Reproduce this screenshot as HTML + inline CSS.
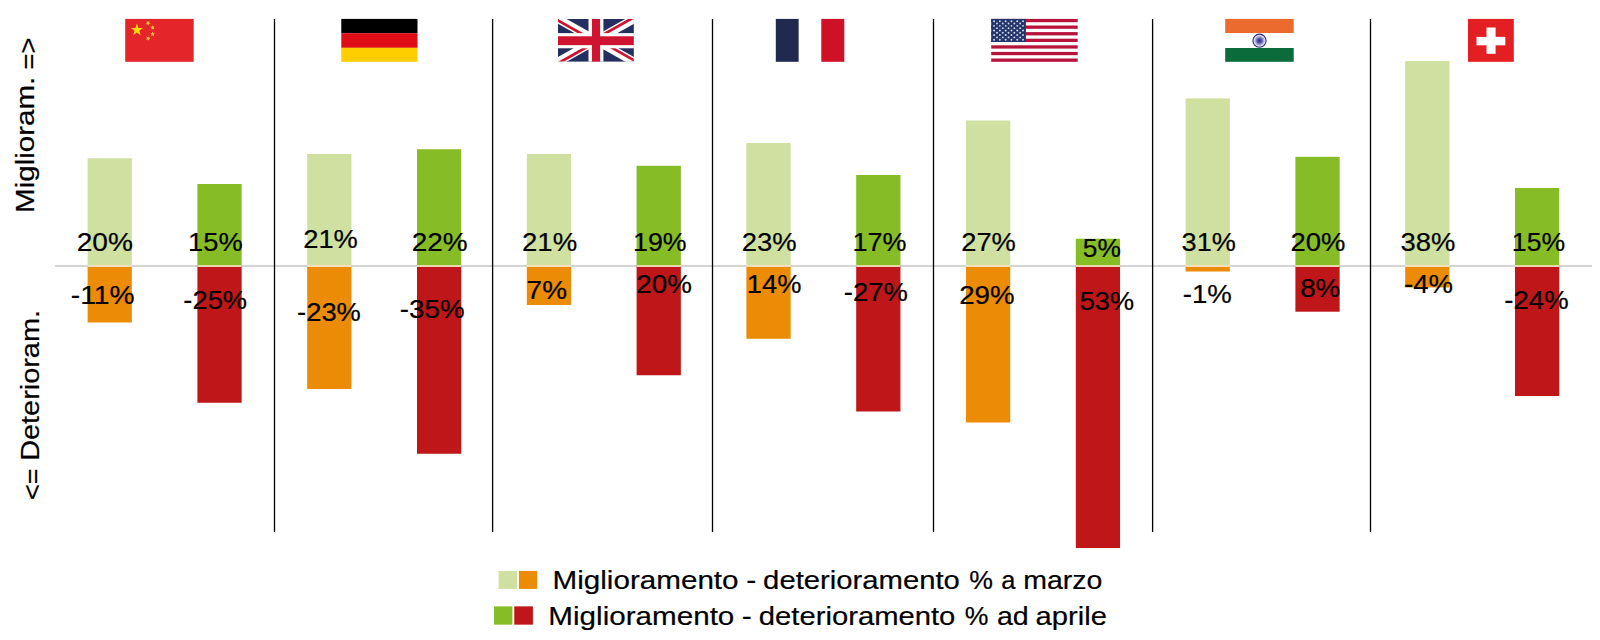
<!DOCTYPE html>
<html lang="it">
<head>
<meta charset="utf-8">
<title>Miglioramento - deterioramento</title>
<style>
html,body{margin:0;padding:0;background:#fff;}
body{width:1600px;height:640px;overflow:hidden;font-family:"Liberation Sans",sans-serif;}
svg{display:block;}
svg text{font-family:"Liberation Sans",sans-serif;fill:#000;stroke:#000;stroke-width:0.2px;white-space:pre;}
</style>
</head>
<body>
<svg width="1600" height="640" viewBox="0 0 1600 640">
<rect x="0" y="0" width="1600" height="640" fill="#ffffff"/>

<rect id="axis" x="55" y="265.05" width="1537" height="1.9" fill="#d2d2d3"/>
<g id="bars">
<rect x="87.60" y="158.25" width="44.25" height="108.75" fill="#cfe0a1"/>
<rect x="87.60" y="266.0" width="44.25" height="56.50" fill="#ec8b05"/>
<rect x="87.60" y="265.2" width="44.25" height="1.7" fill="#f9e6c6"/>
<rect x="197.40" y="184.00" width="44.25" height="83.00" fill="#86bc25"/>
<rect x="197.40" y="266.0" width="44.25" height="136.75" fill="#bf161a"/>
<rect x="197.40" y="265.2" width="44.25" height="1.7" fill="#f9e6c6"/>
<rect x="307.20" y="154.00" width="44.25" height="113.00" fill="#cfe0a1"/>
<rect x="307.20" y="266.0" width="44.25" height="123.00" fill="#ec8b05"/>
<rect x="307.20" y="265.2" width="44.25" height="1.7" fill="#f9e6c6"/>
<rect x="417.00" y="149.25" width="44.25" height="117.75" fill="#86bc25"/>
<rect x="417.00" y="266.0" width="44.25" height="187.75" fill="#bf161a"/>
<rect x="417.00" y="265.2" width="44.25" height="1.7" fill="#f9e6c6"/>
<rect x="526.80" y="154.00" width="44.25" height="113.00" fill="#cfe0a1"/>
<rect x="526.80" y="266.0" width="44.25" height="39.00" fill="#ec8b05"/>
<rect x="526.80" y="265.2" width="44.25" height="1.7" fill="#f9e6c6"/>
<rect x="636.60" y="165.75" width="44.25" height="101.25" fill="#86bc25"/>
<rect x="636.60" y="266.0" width="44.25" height="109.25" fill="#bf161a"/>
<rect x="636.60" y="265.2" width="44.25" height="1.7" fill="#f9e6c6"/>
<rect x="746.40" y="143.00" width="44.25" height="124.00" fill="#cfe0a1"/>
<rect x="746.40" y="266.0" width="44.25" height="72.75" fill="#ec8b05"/>
<rect x="746.40" y="265.2" width="44.25" height="1.7" fill="#f9e6c6"/>
<rect x="856.20" y="175.00" width="44.25" height="92.00" fill="#86bc25"/>
<rect x="856.20" y="266.0" width="44.25" height="145.50" fill="#bf161a"/>
<rect x="856.20" y="265.2" width="44.25" height="1.7" fill="#f9e6c6"/>
<rect x="966.00" y="120.50" width="44.25" height="146.50" fill="#cfe0a1"/>
<rect x="966.00" y="266.0" width="44.25" height="156.50" fill="#ec8b05"/>
<rect x="966.00" y="265.2" width="44.25" height="1.7" fill="#f9e6c6"/>
<rect x="1075.80" y="238.75" width="44.25" height="28.25" fill="#86bc25"/>
<rect x="1075.80" y="266.0" width="44.25" height="282.00" fill="#bf161a"/>
<rect x="1075.80" y="265.2" width="44.25" height="1.7" fill="#f9e6c6"/>
<rect x="1185.60" y="98.40" width="44.25" height="168.60" fill="#cfe0a1"/>
<rect x="1185.60" y="266.0" width="44.25" height="5.50" fill="#ec8b05"/>
<rect x="1185.60" y="265.2" width="44.25" height="1.7" fill="#f9e6c6"/>
<rect x="1295.40" y="156.80" width="44.25" height="110.20" fill="#86bc25"/>
<rect x="1295.40" y="266.0" width="44.25" height="45.70" fill="#bf161a"/>
<rect x="1295.40" y="265.2" width="44.25" height="1.7" fill="#f9e6c6"/>
<rect x="1405.20" y="61.00" width="44.25" height="206.00" fill="#cfe0a1"/>
<rect x="1405.20" y="266.0" width="44.25" height="21.50" fill="#ec8b05"/>
<rect x="1405.20" y="265.2" width="44.25" height="1.7" fill="#f9e6c6"/>
<rect x="1515.00" y="188.00" width="44.25" height="79.00" fill="#86bc25"/>
<rect x="1515.00" y="266.0" width="44.25" height="130.00" fill="#bf161a"/>
<rect x="1515.00" y="265.2" width="44.25" height="1.7" fill="#f9e6c6"/>
</g>
<g id="dividers">
<rect x="273.85" y="19" width="1.3" height="513" fill="#000"/>
<rect x="491.95" y="19" width="1.3" height="513" fill="#000"/>
<rect x="711.85" y="19" width="1.3" height="513" fill="#000"/>
<rect x="932.85" y="19" width="1.3" height="513" fill="#000"/>
<rect x="1151.95" y="19" width="1.3" height="513" fill="#000"/>
<rect x="1369.85" y="19" width="1.3" height="513" fill="#000"/>
</g>
<g id="flag-cn"><rect x="125.2" y="18.9" width="68.5" height="42.9" fill="#e4252a"/>
<polygon points="136.90,23.60 138.34,28.02 142.99,28.02 139.23,30.76 140.66,35.18 136.90,32.44 133.14,35.18 134.57,30.76 130.81,28.02 135.46,28.02" fill="#ffde00"/>
<polygon points="149.25,21.11 149.29,22.57 150.35,23.58 148.97,24.07 148.34,25.39 147.45,24.23 146.00,24.04 146.83,22.83 146.56,21.39 147.96,21.81" fill="#fbc02a"/>
<polygon points="152.20,25.33 153.17,26.43 154.63,26.52 153.89,27.78 154.25,29.20 152.83,28.88 151.59,29.67 151.45,28.21 150.32,27.28 151.66,26.70" fill="#fbc02a"/>
<polygon points="152.60,31.80 153.36,33.05 154.79,33.39 153.84,34.50 153.95,35.96 152.60,35.40 151.25,35.96 151.36,34.50 150.41,33.39 151.84,33.05" fill="#fbc02a"/>
<polygon points="149.25,36.41 149.29,37.87 150.35,38.88 148.97,39.37 148.34,40.69 147.45,39.53 146.00,39.34 146.83,38.13 146.56,36.69 147.96,37.11" fill="#fbc02a"/>
</g>
<g id="flag-de"><rect x="341.3" y="18.9" width="76.2" height="14.4" fill="#000"/><rect x="341.3" y="33.25" width="76.2" height="14.6" fill="#dd0c15"/><rect x="341.3" y="47.8" width="76.2" height="14" fill="#ffce00"/></g>
<svg id="flag-gb" x="558" y="18.9" width="75.9" height="42.9" viewBox="0 0 60 30" preserveAspectRatio="none">
<defs><clipPath id="ukt"><path d="M30,15 h30 v15 z v15 h-30 z h-30 v-15 z v-15 h30 z"/></clipPath></defs>
<rect width="60" height="30" fill="#232f5f"/>
<path d="M0,0 L60,30 M60,0 L0,30" stroke="#fff" stroke-width="6"/>
<path d="M0,0 L60,30 M60,0 L0,30" clip-path="url(#ukt)" stroke="#ce1430" stroke-width="4"/>
<rect x="24.1" y="0" width="11.8" height="30" fill="#fff"/><rect x="0" y="9.95" width="60" height="10.6" fill="#fff"/>
<rect x="26.8" y="0" width="6.5" height="30" fill="#ce1430"/><rect x="0" y="12.15" width="60" height="6.2" fill="#ce1430"/>
</svg>
<g id="flag-fr"><rect x="775.8" y="18.9" width="23" height="42.9" fill="#1f2a4e"/><rect x="798.8" y="18.9" width="22.5" height="42.9" fill="#fff"/><rect x="821.3" y="18.9" width="23" height="42.9" fill="#ce1126"/></g>
<g id="flag-us"><rect x="991.2" y="18.9" width="86.5" height="42.9" fill="#fff"/><rect x="991.2" y="18.90" width="86.5" height="3.30" fill="#b7133c"/><rect x="991.2" y="25.50" width="86.5" height="3.30" fill="#b7133c"/><rect x="991.2" y="32.10" width="86.5" height="3.30" fill="#b7133c"/><rect x="991.2" y="38.70" width="86.5" height="3.30" fill="#b7133c"/><rect x="991.2" y="45.30" width="86.5" height="3.30" fill="#b7133c"/><rect x="991.2" y="51.90" width="86.5" height="3.30" fill="#b7133c"/><rect x="991.2" y="58.50" width="86.5" height="3.30" fill="#b7133c"/><rect x="991.2" y="18.9" width="34.7" height="23.10" fill="#24356b"/><circle cx="994.09" cy="21.21" r="0.95" fill="#d5dbea"/><circle cx="999.88" cy="21.21" r="0.95" fill="#d5dbea"/><circle cx="1005.66" cy="21.21" r="0.95" fill="#d5dbea"/><circle cx="1011.44" cy="21.21" r="0.95" fill="#d5dbea"/><circle cx="1017.23" cy="21.21" r="0.95" fill="#d5dbea"/><circle cx="1023.01" cy="21.21" r="0.95" fill="#d5dbea"/><circle cx="996.98" cy="23.52" r="0.95" fill="#d5dbea"/><circle cx="1002.77" cy="23.52" r="0.95" fill="#d5dbea"/><circle cx="1008.55" cy="23.52" r="0.95" fill="#d5dbea"/><circle cx="1014.33" cy="23.52" r="0.95" fill="#d5dbea"/><circle cx="1020.12" cy="23.52" r="0.95" fill="#d5dbea"/><circle cx="994.09" cy="25.83" r="0.95" fill="#d5dbea"/><circle cx="999.88" cy="25.83" r="0.95" fill="#d5dbea"/><circle cx="1005.66" cy="25.83" r="0.95" fill="#d5dbea"/><circle cx="1011.44" cy="25.83" r="0.95" fill="#d5dbea"/><circle cx="1017.23" cy="25.83" r="0.95" fill="#d5dbea"/><circle cx="1023.01" cy="25.83" r="0.95" fill="#d5dbea"/><circle cx="996.98" cy="28.14" r="0.95" fill="#d5dbea"/><circle cx="1002.77" cy="28.14" r="0.95" fill="#d5dbea"/><circle cx="1008.55" cy="28.14" r="0.95" fill="#d5dbea"/><circle cx="1014.33" cy="28.14" r="0.95" fill="#d5dbea"/><circle cx="1020.12" cy="28.14" r="0.95" fill="#d5dbea"/><circle cx="994.09" cy="30.45" r="0.95" fill="#d5dbea"/><circle cx="999.88" cy="30.45" r="0.95" fill="#d5dbea"/><circle cx="1005.66" cy="30.45" r="0.95" fill="#d5dbea"/><circle cx="1011.44" cy="30.45" r="0.95" fill="#d5dbea"/><circle cx="1017.23" cy="30.45" r="0.95" fill="#d5dbea"/><circle cx="1023.01" cy="30.45" r="0.95" fill="#d5dbea"/><circle cx="996.98" cy="32.76" r="0.95" fill="#d5dbea"/><circle cx="1002.77" cy="32.76" r="0.95" fill="#d5dbea"/><circle cx="1008.55" cy="32.76" r="0.95" fill="#d5dbea"/><circle cx="1014.33" cy="32.76" r="0.95" fill="#d5dbea"/><circle cx="1020.12" cy="32.76" r="0.95" fill="#d5dbea"/><circle cx="994.09" cy="35.07" r="0.95" fill="#d5dbea"/><circle cx="999.88" cy="35.07" r="0.95" fill="#d5dbea"/><circle cx="1005.66" cy="35.07" r="0.95" fill="#d5dbea"/><circle cx="1011.44" cy="35.07" r="0.95" fill="#d5dbea"/><circle cx="1017.23" cy="35.07" r="0.95" fill="#d5dbea"/><circle cx="1023.01" cy="35.07" r="0.95" fill="#d5dbea"/><circle cx="996.98" cy="37.38" r="0.95" fill="#d5dbea"/><circle cx="1002.77" cy="37.38" r="0.95" fill="#d5dbea"/><circle cx="1008.55" cy="37.38" r="0.95" fill="#d5dbea"/><circle cx="1014.33" cy="37.38" r="0.95" fill="#d5dbea"/><circle cx="1020.12" cy="37.38" r="0.95" fill="#d5dbea"/><circle cx="994.09" cy="39.69" r="0.95" fill="#d5dbea"/><circle cx="999.88" cy="39.69" r="0.95" fill="#d5dbea"/><circle cx="1005.66" cy="39.69" r="0.95" fill="#d5dbea"/><circle cx="1011.44" cy="39.69" r="0.95" fill="#d5dbea"/><circle cx="1017.23" cy="39.69" r="0.95" fill="#d5dbea"/><circle cx="1023.01" cy="39.69" r="0.95" fill="#d5dbea"/></g>
<g id="flag-in"><rect x="1225.2" y="18.9" width="68.5" height="14.2" fill="#eb6a2e"/><rect x="1225.2" y="33.0" width="68.5" height="15" fill="#fff"/><rect x="1225.2" y="48" width="68.5" height="13.8" fill="#0b6b3a"/>
<defs><radialGradient id="chk"><stop offset="0" stop-color="#2e2a8c"/><stop offset="0.35" stop-color="#5a58ad"/><stop offset="0.8" stop-color="#dcdcf2"/><stop offset="1" stop-color="#eeeefa"/></radialGradient></defs>
<circle cx="1259.5" cy="40.7" r="6.6" fill="url(#chk)" stroke="#2a2a7a" stroke-width="1.1"/></g>
<g id="flag-ch"><rect x="1468" y="18.9" width="45.8" height="42.9" fill="#e41f23"/><rect x="1476.5" y="36.9" width="28.8" height="8.4" fill="#fff"/><rect x="1486.5" y="27.5" width="9.1" height="26.3" fill="#fff"/></g>
<g id="labels" font-size="25.6">
<text x="76.70" y="251.20" textLength="56.23" lengthAdjust="spacingAndGlyphs">20%</text>
<text x="188.05" y="251.20" textLength="54.59" lengthAdjust="spacingAndGlyphs">15%</text>
<text x="303.23" y="247.95" textLength="54.66" lengthAdjust="spacingAndGlyphs">21%</text>
<text x="411.70" y="251.20" textLength="55.97" lengthAdjust="spacingAndGlyphs">22%</text>
<text x="521.97" y="251.20" textLength="55.19" lengthAdjust="spacingAndGlyphs">21%</text>
<text x="633.09" y="251.20" textLength="53.53" lengthAdjust="spacingAndGlyphs">19%</text>
<text x="741.73" y="251.20" textLength="54.92" lengthAdjust="spacingAndGlyphs">23%</text>
<text x="852.57" y="251.20" textLength="54.06" lengthAdjust="spacingAndGlyphs">17%</text>
<text x="961.23" y="251.20" textLength="54.66" lengthAdjust="spacingAndGlyphs">27%</text>
<text x="1082.80" y="257.20" textLength="38.10" lengthAdjust="spacingAndGlyphs">5%</text>
<text x="1181.58" y="251.20" textLength="54.31" lengthAdjust="spacingAndGlyphs">31%</text>
<text x="1290.48" y="251.20" textLength="54.92" lengthAdjust="spacingAndGlyphs">20%</text>
<text x="1400.57" y="251.20" textLength="54.83" lengthAdjust="spacingAndGlyphs">38%</text>
<text x="1511.85" y="251.20" textLength="53.27" lengthAdjust="spacingAndGlyphs">15%</text>
<text x="70.83" y="303.85" textLength="63.89" lengthAdjust="spacingAndGlyphs">-11%</text>
<text x="183.37" y="308.60" textLength="63.79" lengthAdjust="spacingAndGlyphs">-25%</text>
<text x="297.12" y="321.10" textLength="63.79" lengthAdjust="spacingAndGlyphs">-23%</text>
<text x="399.85" y="318.10" textLength="64.83" lengthAdjust="spacingAndGlyphs">-35%</text>
<text x="526.64" y="298.60" textLength="40.32" lengthAdjust="spacingAndGlyphs">7%</text>
<text x="636.21" y="292.60" textLength="55.71" lengthAdjust="spacingAndGlyphs">20%</text>
<text x="746.80" y="292.60" textLength="54.59" lengthAdjust="spacingAndGlyphs">14%</text>
<text x="843.87" y="300.60" textLength="64.05" lengthAdjust="spacingAndGlyphs">-27%</text>
<text x="959.21" y="303.85" textLength="55.45" lengthAdjust="spacingAndGlyphs">29%</text>
<text x="1079.76" y="309.85" textLength="54.38" lengthAdjust="spacingAndGlyphs">53%</text>
<text x="1182.86" y="302.65" textLength="49.03" lengthAdjust="spacingAndGlyphs">-1%</text>
<text x="1300.22" y="297.35" textLength="40.03" lengthAdjust="spacingAndGlyphs">8%</text>
<text x="1404.06" y="292.65" textLength="49.03" lengthAdjust="spacingAndGlyphs">-4%</text>
<text x="1504.36" y="309.25" textLength="64.26" lengthAdjust="spacingAndGlyphs">-24%</text>
</g>
<g id="ylabels" transform="rotate(-90)">
<text font-size="25.8" ><tspan x="-212.94" y="34.40" textLength="136.28" lengthAdjust="spacingAndGlyphs">Miglioram.</tspan> <tspan x="-69.58" y="36.70" textLength="32.20" lengthAdjust="spacingAndGlyphs">=&gt;</tspan></text>
<text font-size="25.8" ><tspan x="-500.01" y="40.90" textLength="31.71" lengthAdjust="spacingAndGlyphs">&lt;=</tspan> <tspan x="-460.88" y="38.90" textLength="150.92" lengthAdjust="spacingAndGlyphs">Deterioram.</tspan></text>
</g>
<g id="legend">
<rect x="498.6" y="570.9" width="18.4" height="18.0" fill="#cfe0a1"/>
<rect x="518.9" y="570.9" width="18.2" height="18.0" fill="#ec8b05"/>
<rect x="494" y="606.35" width="18.4" height="18.3" fill="#86bc25"/>
<rect x="514.25" y="606.35" width="18.65" height="18.3" fill="#bf161a"/>
<text font-size="25.5" ><tspan x="552.56" y="588.80" textLength="186.04" lengthAdjust="spacingAndGlyphs">Miglioramento</tspan> <tspan x="746.25" y="588.80" textLength="10.02" lengthAdjust="spacingAndGlyphs">-</tspan> <tspan x="763.11" y="588.80" textLength="196.75" lengthAdjust="spacingAndGlyphs">deterioramento</tspan> <tspan x="969.17" y="588.80" textLength="23.71" lengthAdjust="spacingAndGlyphs">%</tspan> <tspan x="1001.13" y="588.80" textLength="14.18" lengthAdjust="spacingAndGlyphs">a</tspan> <tspan x="1023.18" y="588.80" textLength="79.14" lengthAdjust="spacingAndGlyphs">marzo</tspan></text>
<text font-size="25.5" ><tspan x="548.36" y="624.50" textLength="185.99" lengthAdjust="spacingAndGlyphs">Miglioramento</tspan> <tspan x="741.75" y="624.50" textLength="10.02" lengthAdjust="spacingAndGlyphs">-</tspan> <tspan x="758.86" y="624.50" textLength="196.50" lengthAdjust="spacingAndGlyphs">deterioramento</tspan> <tspan x="964.67" y="624.50" textLength="23.71" lengthAdjust="spacingAndGlyphs">%</tspan> <tspan x="996.99" y="624.50" textLength="31.77" lengthAdjust="spacingAndGlyphs">ad</tspan> <tspan x="1035.61" y="624.50" textLength="71.30" lengthAdjust="spacingAndGlyphs">aprile</tspan></text>
</g>
</svg>
</body>
</html>
